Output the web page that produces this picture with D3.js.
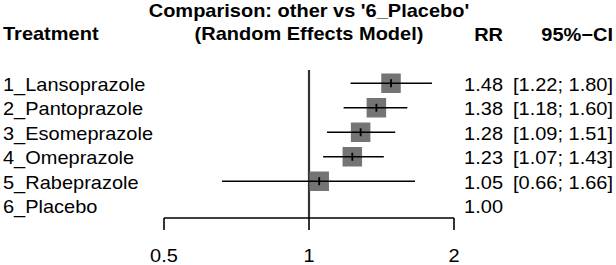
<!DOCTYPE html>
<html>
<head>
<meta charset="utf-8">
<script src="https://cdn.jsdelivr.net/npm/d3@7"></script>
<style>
  html, body { margin: 0; padding: 0; background: #fff; }
  svg { display: block; font-family: "Liberation Sans", Arial, sans-serif; }
</style>
</head>
<body>
<div id="chart"></div>
<script>
// forest plot: network meta-analysis, every treatment against placebo

const treatments = ['1_Lansoprazole', '2_Pantoprazole', '3_Esomeprazole', '4_Omeprazole', '5_Rabeprazole', '6_Placebo'];
const rr    = [1.48, 1.38, 1.28, 1.23, 1.05, 1.00];
const lower = [1.22, 1.18, 1.09, 1.07, 0.66, null];
const upper = [1.80, 1.60, 1.51, 1.43, 1.66, null];
const xTicks = [0.5, 1, 2];

const W = 616, H = 265;
const fs = 20, squeeze = 0.9;   // text is a bit flattened in the original

const svg = d3.select('#chart').append('svg').attr('width', W).attr('height', H);

const x = d3.scaleLog().domain([0.5, 2]).range([164, 454]);
const y = d3.scaleBand().domain(treatments).range([71, 218]).paddingInner(0).paddingOuter(0);
const yc = d => y(d) + y.bandwidth() / 2;

const rows = treatments.map((t, i) => ({ t, rr: rr[i], lo: lower[i], hi: upper[i] }));

function label(g, txt, px, py, anchor, bold) {
  g.append('text')
    .attr('transform', `translate(${px},${py}) scale(1,${squeeze})`)
    .attr('text-anchor', anchor)
    .attr('font-size', fs)
    .attr('font-weight', bold ? 'bold' : 'normal')
    .attr('fill', '#000')
    .text(txt);
}

// headers
const head = svg.append('g');
label(head, "Comparison: other vs '6_Placebo'", x(1), 17, 'middle', true);
label(head, '(Random Effects Model)', x(1), 40, 'middle', true);
label(head, 'Treatment', 3, 40, 'start', true);
label(head, 'RR', 503, 41, 'end', true);
label(head, '95%\u2212CI', 613, 41, 'end', true);

// null line
svg.append('line')
  .attr('x1', x(1)).attr('x2', x(1))
  .attr('y1', 70).attr('y2', 218)
  .attr('stroke', '#333').attr('stroke-width', 2.2);

const fmt = d3.format('.2f');
const g = svg.append('g');
rows.forEach(d => {
  const cy = yc(d.t);
  const base = cy + 7.5;
  label(g, d.t, 3, base, 'start', false);
  label(g, fmt(d.rr), 503, base, 'end', false);
  if (d.lo == null) return;
  label(g, `[${fmt(d.lo)}; ${fmt(d.hi)}]`, 613, base, 'end', false);

  const s = 19.5;
  g.append('rect')
    .attr('x', x(d.rr) - s / 2).attr('y', cy - s / 2)
    .attr('width', s).attr('height', s)
    .attr('fill', '#747474');
  g.append('line')
    .attr('x1', x(d.lo)).attr('x2', x(d.hi))
    .attr('y1', cy).attr('y2', cy)
    .attr('stroke', '#000').attr('stroke-width', 1.6);
  g.append('line')
    .attr('x1', x(d.rr)).attr('x2', x(d.rr))
    .attr('y1', cy - 4).attr('y2', cy + 4)
    .attr('stroke', '#000').attr('stroke-width', 1.8);
});

// x axis
const ax = svg.append('g').attr('transform', 'translate(0,218)');
ax.append('line')
  .attr('x1', x(0.5)).attr('x2', x(2))
  .attr('stroke', '#000').attr('stroke-width', 1.6);
xTicks.forEach(v => {
  ax.append('line')
    .attr('x1', x(v)).attr('x2', x(v))
    .attr('y1', 0).attr('y2', 12)
    .attr('stroke', '#000').attr('stroke-width', 1.6);
  label(ax, String(v), x(v), 44, 'middle', false);
});
</script>
</body>
</html>
